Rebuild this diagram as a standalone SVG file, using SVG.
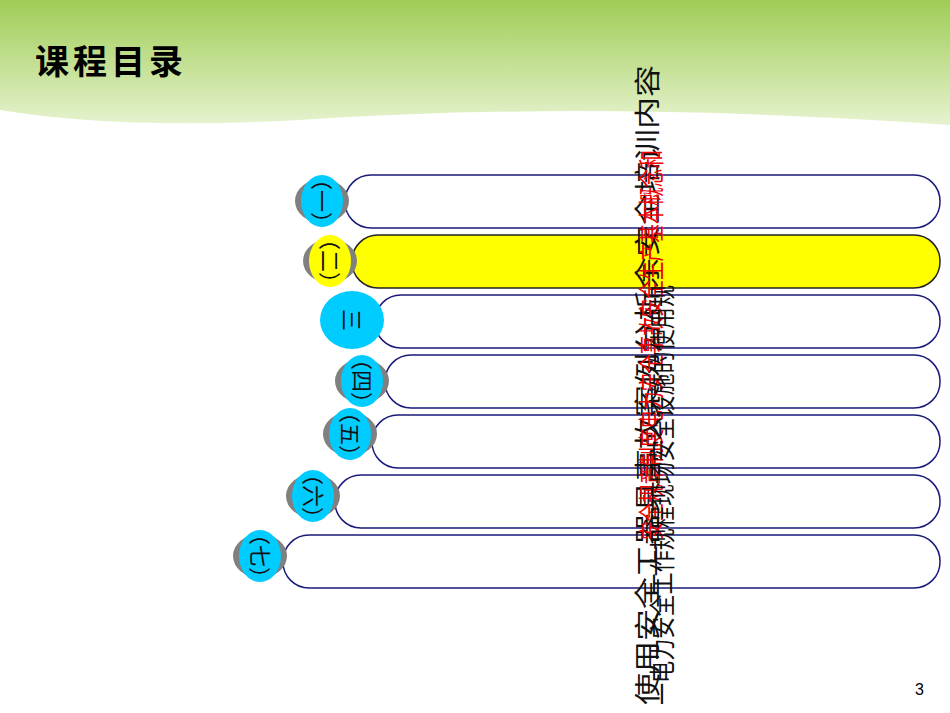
<svg xmlns="http://www.w3.org/2000/svg" width="950" height="713" viewBox="0 0 950 713">
<defs>
<linearGradient id="g" x1="0" y1="0" x2="0" y2="1">
<stop offset="0" stop-color="#9fcc55"/><stop offset="1" stop-color="#e6f3cf"/></linearGradient>
</defs>
<style>
.bar{fill:#fff;stroke:#1a1a7a;stroke-width:1.5}
.sh{fill:#808080}
.c{fill:#00ccff}
.n{font-family:"Noto Sans CJK SC",sans-serif;font-size:22px;fill:#111}
.v{font-family:"Noto Sans CJK SC",sans-serif;font-size:26px}
</style>
<rect width="950" height="713" fill="#fff"/>
<path d="M0 0H950V125Q600 100 300 120Q120 130 0 110Z" fill="url(#g)"/>
<text x="35" y="74" font-family="Noto Sans CJK SC,sans-serif" font-size="34" font-weight="bold" letter-spacing="4">课程目录</text>
<g id="connectors"/>
<g id="row1"><rect class="bar" x="345" y="175" width="595" height="53" rx="26"/><ellipse class="sh" cx="322" cy="201" rx="27" ry="22"/><ellipse class="c" cx="322" cy="201" rx="21" ry="26"/><text class="n" transform="translate(322,201) rotate(90)" text-anchor="middle" dy="8">（一）</text></g>
<g id="row2"><rect x="352" y="235" width="588" height="53" rx="26" fill="#ffff00" stroke="#222" stroke-width="1.5"/><ellipse class="sh" cx="330" cy="261" rx="27" ry="22"/><ellipse cx="330" cy="261" rx="21" ry="26" fill="#ffff00"/><text class="n" transform="translate(330,261) rotate(90)" text-anchor="middle" dy="8" fill="#e00">（二）</text></g>
<g id="row3"><rect class="bar" x="375" y="295" width="565" height="53" rx="26"/><ellipse class="c" cx="352" cy="320" rx="32" ry="29"/><text class="n" transform="translate(352,320) rotate(90)" text-anchor="middle" dy="8">三</text></g>
<g id="row4"><rect class="bar" x="385" y="355" width="555" height="53" rx="26"/><ellipse class="sh" cx="362" cy="381" rx="27" ry="22"/><ellipse class="c" cx="362" cy="381" rx="21" ry="26"/><text class="n" transform="translate(362,381) rotate(90)" text-anchor="middle" dy="8">（四）</text></g>
<g id="row5"><rect class="bar" x="372" y="415" width="568" height="53" rx="26"/><ellipse class="sh" cx="350" cy="434" rx="27" ry="22"/><ellipse class="c" cx="350" cy="434" rx="21" ry="26"/><text class="n" transform="translate(350,434) rotate(90)" text-anchor="middle" dy="8">（五）</text></g>
<g id="row6"><rect class="bar" x="335" y="475" width="605" height="53" rx="26"/><ellipse class="sh" cx="313" cy="496" rx="27" ry="22"/><ellipse class="c" cx="313" cy="496" rx="21" ry="26"/><text class="n" transform="translate(313,496) rotate(90)" text-anchor="middle" dy="8">（六）</text></g>
<g id="row7"><rect class="bar" x="283" y="535" width="657" height="53" rx="26"/><ellipse class="sh" cx="260" cy="556" rx="27" ry="22"/><ellipse class="c" cx="260" cy="556" rx="21" ry="26"/><text class="n" transform="translate(260,556) rotate(90)" text-anchor="middle" dy="8">（七）</text></g>
<text class="v" transform="translate(657,705) rotate(-90)" fill="#111" textLength="640" lengthAdjust="spacingAndGlyphs">使用安全工器具事故案例分析余安全培训内容</text>
<text class="v" transform="translate(661,540) rotate(-90)" fill="#e00" textLength="390" lengthAdjust="spacingAndGlyphs">安全规章制度电力安全事故安全生产基本概念和</text>
<text class="v" transform="translate(672,705) rotate(-90)" fill="#111" textLength="420" lengthAdjust="spacingAndGlyphs">一电力安全工作规程现场安全设施的使用规</text>
<text x="915" y="695" font-family="Liberation Sans,sans-serif" font-size="16">3</text>
</svg>
